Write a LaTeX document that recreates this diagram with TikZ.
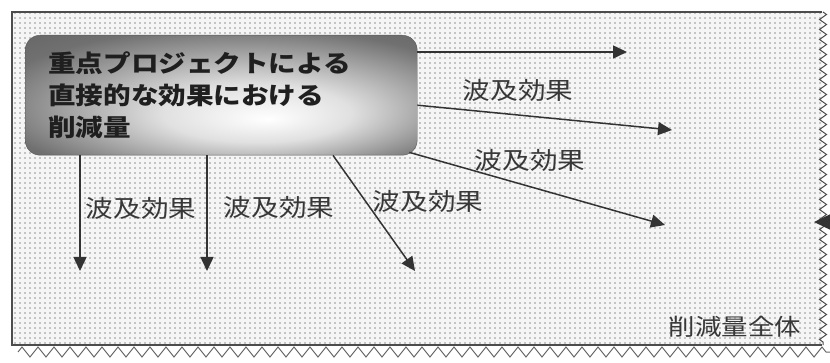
\documentclass[tikz,border=0pt]{standalone}
\usepackage{fontspec}
\newfontfamily\jp[FakeStretch=1.15]{Noto Sans CJK JP}
\usetikzlibrary{arrows.meta,decorations.pathmorphing,patterns,positioning}
% dotted ground of the whole area
\pgfdeclarepatternformonly{graindots}{\pgfqpoint{-1pt}{-1pt}}{\pgfqpoint{1pt}{1pt}}{\pgfqpoint{5pt}{5pt}}{%
  \pgfpathcircle{\pgfqpoint{0pt}{0pt}}{0.9pt}\pgfusepath{fill}}
\pgfdeclareradialshading{boxglow}{\pgfpoint{6bp}{-10bp}}{color(0bp)=(white); color(12bp)=(black!12); color(32bp)=(black!56); color(50bp)=(black!66)}

\begin{document}
\begin{tikzpicture}[x=1pt,y=-1pt,
    effect/.style={font=\jp\fontsize{24}{28}\selectfont, text=black!78, inner sep=0pt},
    spread/.style={line width=1.5pt, black!80, -{Triangle[length=14pt,width=13pt]}},
    directbox/.style={draw=black!65, rounded corners=15pt, shading=boxglow,
      minimum width=392pt, minimum height=120pt, text width=346pt, align=left,
      inner xsep=23pt, font=\jp\bfseries\fontsize{24}{32}\selectfont, text=black!88}]
  \useasboundingbox (0,0) rectangle (830,363);
  % whole reduction area
  \fill[gray!8] (12,12) rectangle (822,345);
  \fill[pattern=graindots, pattern color=gray!85] (12,12) rectangle (822,345);
  \draw[black!70, line width=1.2pt] (822,12) -- (12,12) -- (12,345) -- (822,345);
  \draw[black!70, line width=1pt, decorate, decoration={zigzag, segment length=10pt, amplitude=3.5pt}] (823,12) -- (823,345);
  \draw[black!60, line width=1pt, decorate, decoration={zigzag, segment length=16pt, amplitude=5pt}] (18,352) -- (830,352);

  % direct effect
  \node[directbox, anchor=north west] (direct) at (25,35)
    {重点プロジェクトによる\\直接的な効果における\\削減量};

  % ends of the arrows
  \coordinate (s1) at ([yshift=-17pt]direct.north east);
  \coordinate (s2) at ([yshift=-10pt]direct.east);
  \coordinate (s3) at ([xshift=-8pt,yshift=3pt]direct.south east);
  \coordinate (s4) at ([xshift=308pt]direct.south west);
  \coordinate (s5) at ([xshift=55pt]direct.south west);
  \coordinate (s6) at ([xshift=182pt]direct.south west);
  \coordinate (t1) at (627,52);
  \coordinate (t2) at (672,130);
  \coordinate (t3) at (665,225);
  \coordinate (t4) at (415,271);
  \coordinate (t5) at (80,271);
  \coordinate (t6) at (207,271);
  \coordinate (outer) at (850,222);
  \coordinate (edge) at (814,222);

  \draw[spread] (s1) -- (t1);
  \draw[spread] (s2) -- (t2);
  \draw[spread] (s3) -- (t3);
  \draw[spread] (s4) -- (t4);
  \draw[spread] (s5) -- (t5);
  \draw[spread] (s6) -- (t6);
  \draw[spread, -{Triangle[length=16pt,width=15pt]}] (outer) -- (edge);

  % labels
  \node[effect] (e2) at (518,90) {波及効果};
  \node[effect] (e3) at (530,160) {波及効果};
  \node[effect] (e4) at (428,201) {波及効果};
  \node[effect] (e5) at (141,208) {波及効果};
  \node[effect] (e6) at (279,207) {波及効果};
  \node[effect, font=\jp\fontsize{23}{28}\selectfont] (total) at (735,327) {削減量全体};
\end{tikzpicture}
\end{document}
